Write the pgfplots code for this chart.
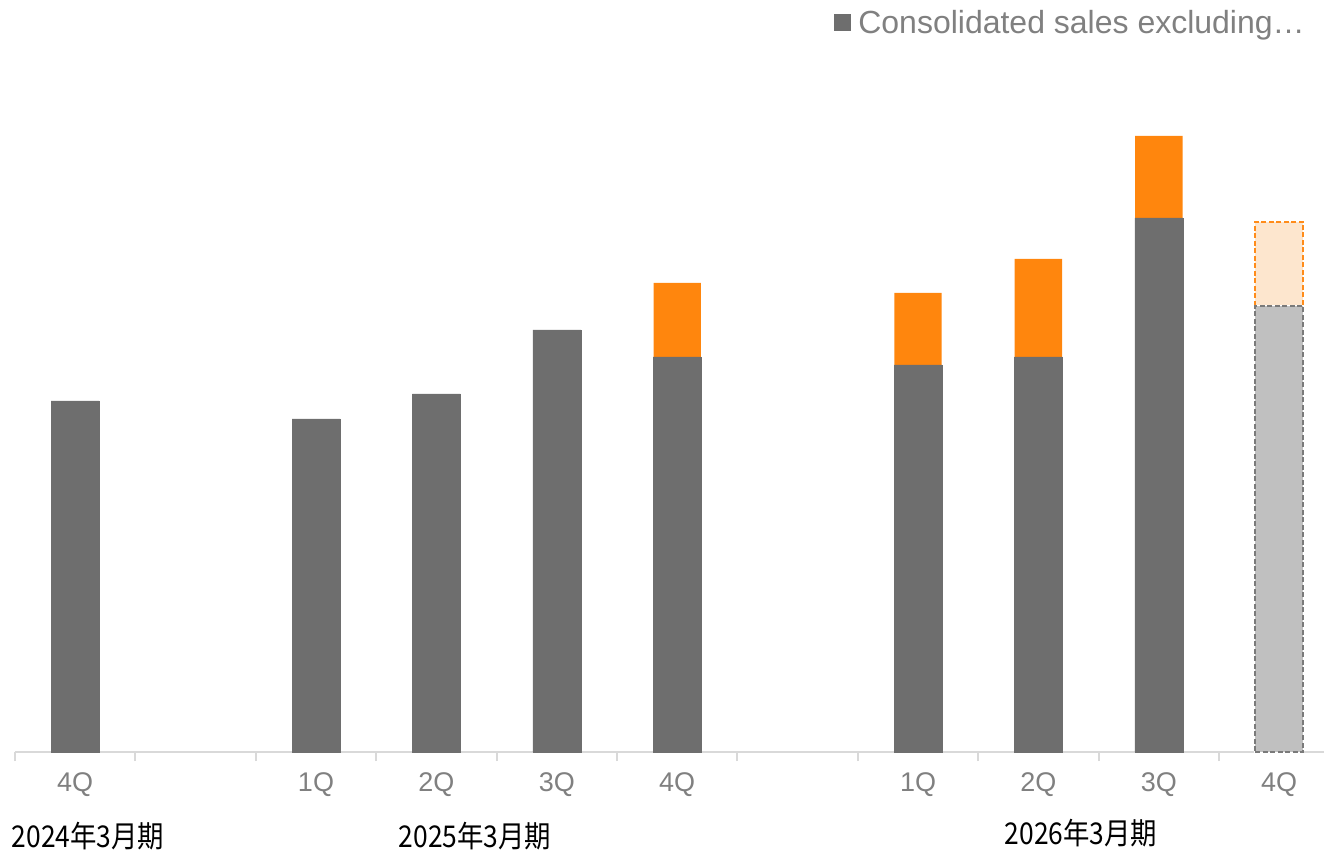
\documentclass[border=0pt]{standalone}
\usepackage{pgfplots}
\pgfplotsset{compat=1.18}
\usepackage{fontspec}
\setmainfont{Liberation Sans}
\newfontfamily\cjk[FakeStretch=0.88]{Noto Sans CJK JP}
\definecolor{dg}{HTML}{6E6E6E}
\definecolor{org}{HTML}{FF860D}
\definecolor{lg}{HTML}{C0C0C0}
\definecolor{lo}{HTML}{FDE6CE}
\definecolor{axc}{HTML}{D9D9D9}
\definecolor{tc}{HTML}{808080}
\definecolor{dash1}{HTML}{7A7A7A}
\definecolor{dash2}{HTML}{FF8C1A}
\begin{document}
\begin{tikzpicture}
\useasboundingbox (0,0) rectangle (1324bp,850bp);
\begin{axis}[
  at={(15bp,98bp)}, anchor=south west,
  scale only axis, width=1309bp, height=702bp,
  xmin=-0.5, xmax=10.372, ymin=0, ymax=702,
  ybar, bar width=48bp,
  axis y line=none, axis x line*=bottom,
  x axis line style={axc, line width=2bp, -},
  xtick={0,...,10},
  xticklabels={4Q,,1Q,2Q,3Q,4Q,,1Q,2Q,3Q,4Q},
  major tick length=0pt,
  tick align=outside,
  extra x ticks={-0.5,0.5,...,9.5},
  extra x tick labels={},
  extra x tick style={major tick length=9bp, tick style={axc, line width=2bp}},
  x tick label style={font=\fontsize{27bp}{27bp}\selectfont, text=tc, anchor=center, yshift=-33bp},
  clip=false,
  legend style={at={(0.9870,1.0385)}, anchor=east, draw=none, fill=none,
    font=\fontsize{32bp}{32bp}\selectfont, text=tc, inner sep=0pt},
  legend image code/.code={\fill[dg] (0bp,-7bp) rectangle (16bp,9bp); \path (22bp,0bp);},
]
% orange: totals (quarter sales incl. new segment), drawn first
\addplot[bar shift=0pt, bar width=47.4bp, fill=org, draw=none, forget plot] coordinates {(5,469) (7,459) (8,493) (9,616)};
\addplot[bar shift=0pt, fill=dg, draw=dg, line width=0.6bp] coordinates {(0,351) (2,333) (3,358) (4,422) (5,395) (7,387) (8,395) (9,534)};
\addlegendentry{Consolidated sales excluding…}
% forecast bar (total, then base on top)
\addplot[bar shift=0pt, fill=lo, draw=dash2, line width=1.8bp, dash pattern=on 5bp off 2.5bp, forget plot] coordinates {(10,530)};
\addplot[bar shift=0pt, fill=lg, draw=white, line width=2.4bp, forget plot] coordinates {(10,446)};
\addplot[bar shift=0pt, fill=lg, draw=dash1, line width=1.8bp, dash pattern=on 5bp off 2.5bp, forget plot] coordinates {(10,446)};
\node[font=\cjk\fontsize{30bp}{30bp}\selectfont, anchor=center] at (axis cs:0.106,0) [yshift=-84bp] {2024年3月期};
\node[font=\cjk\fontsize{30bp}{30bp}\selectfont, anchor=center] at (axis cs:3.32,0) [yshift=-84bp] {2025年3月期};
\node[font=\cjk\fontsize{30bp}{30bp}\selectfont, anchor=center] at (axis cs:8.354,0) [yshift=-81bp] {2026年3月期};
\end{axis}
\end{tikzpicture}
\end{document}
